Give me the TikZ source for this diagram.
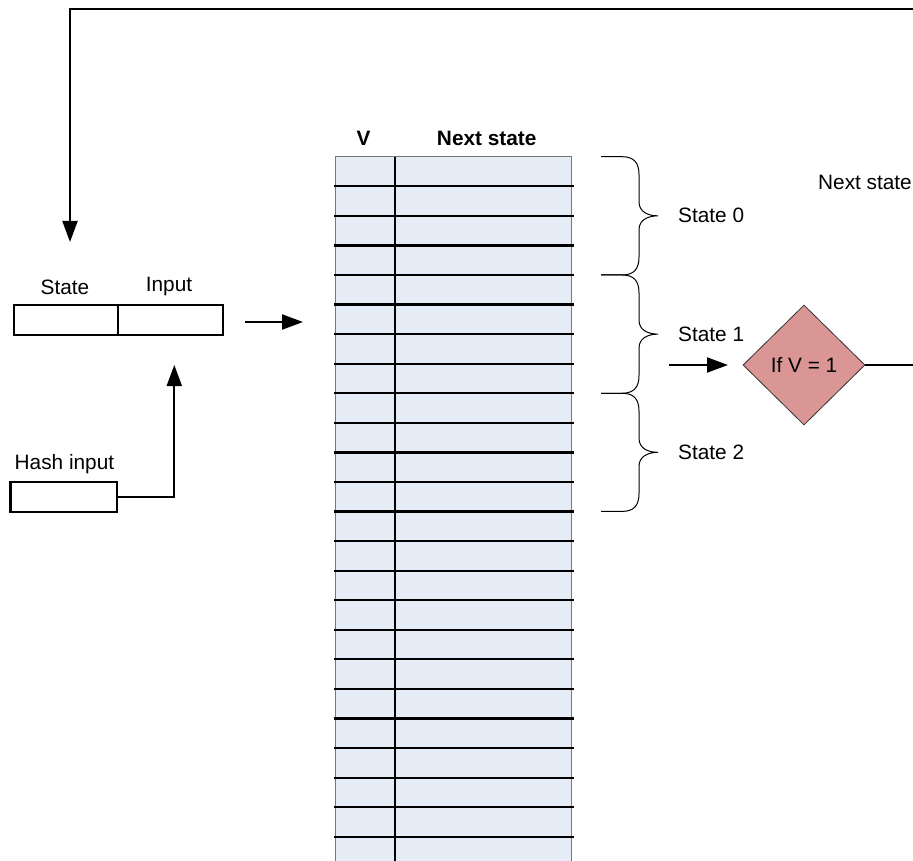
\documentclass[tikz,border=0pt]{standalone}
\usepackage{fontspec}
\setmainfont{Liberation Sans}
\usetikzlibrary{arrows.meta,shapes.geometric}
\definecolor{cellfill}{RGB}{230,236,246}
\definecolor{decfill}{RGB}{217,150,148}
\definecolor{edgegray}{RGB}{120,120,120}
\begin{document}
\begin{tikzpicture}[x=1pt,y=-1pt,
  every node/.style={font=\fontsize{20.8}{25}\selectfont, inner sep=0pt},
  conn/.style={line width=2pt, black},
  tip/.style={-{Triangle[length=21pt,width=15pt]}},
  field/.style={draw=black, line width=2.2pt, minimum height=30pt},
  rowline/.style={line width=2.2pt, black},
  brace/.style={line width=1pt, black},
  decision/.style={diamond, draw=black!80, line width=0.8pt, fill=decfill,
    minimum width=122pt, minimum height=120pt}
]
\clip (0,0) rectangle (913,861);
\fill[white] (0,0) rectangle (913,861);

% register: state and input fields
\node[field, minimum width=104pt, anchor=north west] (state) at (12.7,304) {};
\node[field, minimum width=105pt, anchor=north west] (input) at (116.7,304) {};
\node (statelbl) at (65,287) {State};
\node (inputlbl) at (169,287) {Input};

% hash input field
\node[field, minimum width=106.7pt, minimum height=29.7pt, anchor=north west] (hash) at (9.3,481) {};
\node[anchor=west] (hashlbl) at (14.5,464) {Hash input};

% lookup table
\fill[cellfill] (335.7,156.7) rectangle (571.7,870);
\draw[edgegray, line width=1.2pt] (335.7,870) -- (335.7,156.7) -- (571.7,156.7) -- (571.7,870);
\foreach \k in {1,...,23}{
  \draw[rowline] (334,{156.7+29.57*\k}) -- (574,{156.7+29.57*\k});
}
\draw[rowline] (394.7,156.7) -- (394.7,870);
\node[font=\fontsize{20.8}{25}\selectfont\bfseries] (vhead) at (363.5,138.5) {V};
\node[font=\fontsize{20.8}{25}\selectfont\bfseries] (nshead) at (486.7,138.5) {Next state};

% state groups
\foreach \t/\b/\n in {156.7/274.98/0, 274.98/393.26/1, 393.26/511.41/2}{
  \pgfmathsetmacro{\m}{(\t+\b)/2}
  \draw[brace] (601,\t) -- (622,\t)
    .. controls (634,\t) and (639,{\t+6}) .. (639,{\t+18})
    -- (639,{\m-14})
    .. controls (639,{\m-4}) and (648,\m) .. (658,\m)
    .. controls (648,\m) and (639,{\m+4}) .. (639,{\m+14})
    -- (639,{\b-18})
    .. controls (639,{\b-6}) and (634,\b) .. (622,\b) -- (601,\b);
  \node[anchor=west] (group\n) at (678,\m) {State \n};
}

% decision
\node[decision] (check) at (804,365) {If V = 1};
\node[anchor=east] (nextlbl) at (912,182) {Next state};

% connectors
\coordinate (fbin) at (925,9);
\coordinate (fbout) at (70,242);
\draw[conn, tip] (fbin) -| (fbout);

\coordinate (regout) at (245,322);
\coordinate (tabin) at (303,322);
\draw[conn, tip] (regout) -- (tabin);

\coordinate (hashup) at (174.3,365);
\draw[conn, tip] (hash.east) -| (hashup);

\coordinate (grpout) at (669,365);
\coordinate (chkin) at (728,365);
\draw[conn, tip] (grpout) -- (chkin);

\coordinate (chkout) at (925,365);
\draw[conn, line width=1.2pt] (check.east) -- (chkout);
\end{tikzpicture}
\end{document}
